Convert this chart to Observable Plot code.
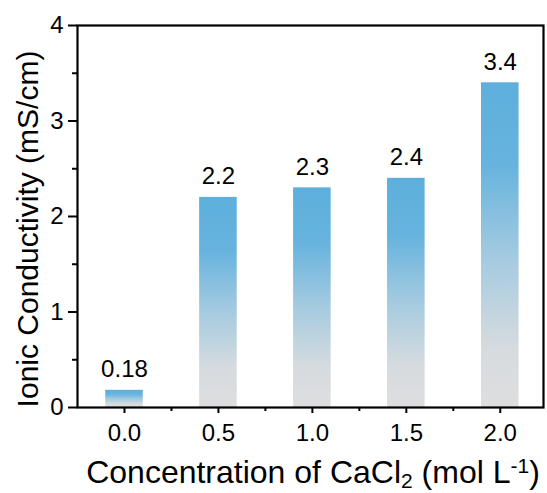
<!DOCTYPE html>
<html>
<head>
<meta charset="utf-8">
<script src="https://cdn.jsdelivr.net/npm/d3@7"></script>
<script src="https://cdn.jsdelivr.net/npm/@observablehq/plot@0.6"></script>
<style>
  html, body { margin: 0; padding: 0; background: #fff; }
  #chart svg { display: block; }
</style>
</head>
<body>
<div id="chart"></div>
<script>
const concentrations = [0.0, 0.5, 1.0, 1.5, 2.0];
const conductivity = [0.18, 2.2, 2.3, 2.4, 3.4];
const valueLabels = ["0.18", "2.2", "2.3", "2.4", "3.4"];
const xTicks = [0.0, 0.5, 1.0, 1.5, 2.0];
const xTickLabels = ["0.0", "0.5", "1.0", "1.5", "2.0"];
const xMinorTicks = [0.25, 0.75, 1.25, 1.75];
const yTicks = [0, 1, 2, 3, 4];
const yMinorTicks = [0.5, 1.5, 2.5, 3.5];

const rows = concentrations.map((c, i) => ({c, v: conductivity[i], label: valueLabels[i]}));
const halfWidth = 0.1;
const font = "Arial, 'Liberation Sans', sans-serif";

const plot = Plot.plot({
  width: 547,
  height: 493,
  marginLeft: 77,
  marginRight: 4,
  marginTop: 25,
  marginBottom: 86,
  style: {fontFamily: font, fontSize: "24px", color: "#000", background: "#fff"},
  x: {domain: [-0.25, 2.23]},
  y: {domain: [0, 4]},
  marks: [
    Plot.rect(rows, {x1: d => d.c - halfWidth, x2: d => d.c + halfWidth, y1: 0, y2: "v", fill: "url(#barGrad)"}),
    Plot.text(rows, {x: "c", y: "v", text: "label", dy: -13, lineAnchor: "bottom", fontSize: 24, fill: "#000"}),
    Plot.axisY(yTicks, {tickSize: 9, tickPadding: 5, strokeWidth: 2, fontSize: 24, label: null, tickFormat: d => String(d)}),
    Plot.axisY(yMinorTicks, {tickSize: 5, strokeWidth: 2, text: null, label: null}),
    Plot.axisX(xTicks, {tickSize: 6, tickPadding: 10, strokeWidth: 2, fontSize: 24, label: null, tickFormat: d => xTickLabels[xTicks.indexOf(d)]}),
    Plot.axisX(xMinorTicks, {tickSize: 4, strokeWidth: 2, text: null, label: null}),
    Plot.frame({stroke: "#000", strokeWidth: 2.2})
  ]
});

const svg = d3.select(plot);
const defs = svg.insert("defs", ":first-child");
const grad = defs.append("linearGradient").attr("id", "barGrad")
  .attr("x1", 0).attr("y1", 0).attr("x2", 0).attr("y2", 1);
[["0%", "#5eafdc"], ["25%", "#66b3de"], ["55%", "#a6cbe0"], ["82%", "#d6dbdf"], ["100%", "#dededf"]]
  .forEach(([o, col]) => grad.append("stop").attr("offset", o).attr("stop-color", col));

// x axis title with subscript and superscript
const xt = svg.append("text").attr("x", 313).attr("y", 483).attr("text-anchor", "middle")
  .attr("font-size", 32).attr("font-family", font).attr("fill", "#000");
xt.append("tspan").text("Concentration of CaCl");
xt.append("tspan").attr("font-size", 21).attr("dy", 5).text("2");
xt.append("tspan").attr("dy", -5).text(" (mol L");
xt.append("tspan").attr("font-size", 21).attr("dy", -10).text("-1");
xt.append("tspan").attr("dy", 10).text(")");

// y axis title
svg.append("text").attr("transform", "translate(38,229) rotate(-90)")
  .attr("text-anchor", "middle").attr("font-size", 30).attr("font-family", font).attr("fill", "#000")
  .text("Ionic Conductivity (mS/cm)");

document.getElementById("chart").appendChild(plot);
</script>
</body>
</html>
